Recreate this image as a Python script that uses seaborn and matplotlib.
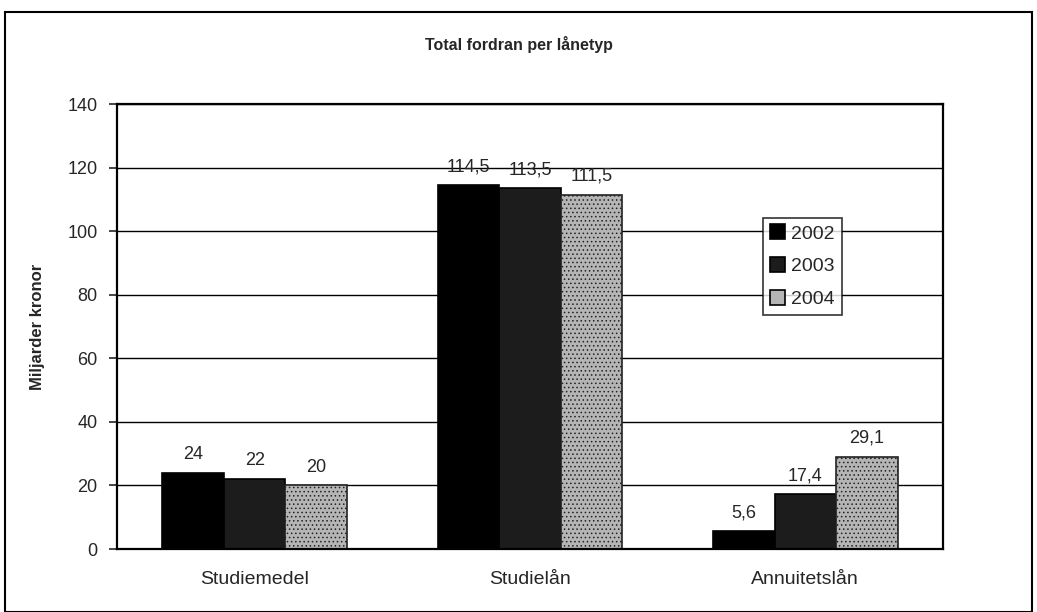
import matplotlib
matplotlib.use("Agg")
import matplotlib.pyplot as plt
import matplotlib.patches as mpatches
import seaborn as sns
import pandas as pd

categories = ["Studiemedel", "Studielån", "Annuitetslån"]
years = ["2002", "2003", "2004"]
values_2002 = [24, 114.5, 5.6]
values_2003 = [22, 113.5, 17.4]
values_2004 = [20, 111.5, 29.1]

df = pd.DataFrame({
    "Lånetyp": categories * 3,
    "År": [y for y in years for _ in categories],
    "Värde": values_2002 + values_2003 + values_2004,
})

sns.set_style("white")
plt.rcParams["font.family"] = ["Liberation Sans", "DejaVu Sans"]
plt.rcParams["hatch.linewidth"] = 0.6

colors = ["#000000", "#1c1c1c", "#b5b5b5"]
hatches = ["", "", "...."]

fig = plt.figure(figsize=(10.37, 6.12), dpi=100)
ax = fig.add_axes([0.1128, 0.1029, 0.7965, 0.727])

sns.barplot(data=df, x="Lånetyp", y="Värde", hue="År", palette=colors,
            width=0.67, edgecolor="black", linewidth=1.2, ax=ax)

for container, hatch, year in zip(ax.containers, hatches, years):
    for bar in container:
        bar.set_hatch(hatch)
        if year == "2004":
            bar.set_edgecolor("#222222")
    labels = [f"{v:g}".replace(".", ",") for v in container.datavalues]
    ax.bar_label(container, labels=labels, padding=7, fontsize=13)

ax.set_ylim(0, 140)
ax.set_yticks(range(0, 141, 20))
ax.yaxis.grid(True, color="black", linewidth=1.0)
ax.set_axisbelow(True)
for s in ax.spines.values():
    s.set_color("black")
    s.set_linewidth(1.6)
ax.tick_params(axis="y", left=True, length=6, width=1.2, labelsize=13, pad=8)
ax.tick_params(axis="x", bottom=False, labelsize=14, pad=12)
ax.set_xlabel("")
ax.set_ylabel("Miljarder kronor", fontsize=12, fontweight="bold", labelpad=16)
fig.text(0.5, 0.927, "Total fordran per lånetyp", ha="center", va="center",
         fontsize=11.5, fontweight="bold")

leg = ax.legend(loc="upper left", bbox_to_anchor=(0.782, 0.745), frameon=True,
                fontsize=14, handlelength=0.8, handleheight=0.8,
                handletextpad=0.3, labelspacing=0.75, borderpad=0.35,
                borderaxespad=0.0, fancybox=False, title=None)
leg.get_frame().set_edgecolor("black")
leg.get_frame().set_linewidth(1.2)

fig.patches.append(mpatches.Rectangle((0.005, 0.0), 0.99, 0.98, transform=fig.transFigure,
                                      fill=False, edgecolor="black", linewidth=1.5))

fig.savefig("out.png", dpi=100)
